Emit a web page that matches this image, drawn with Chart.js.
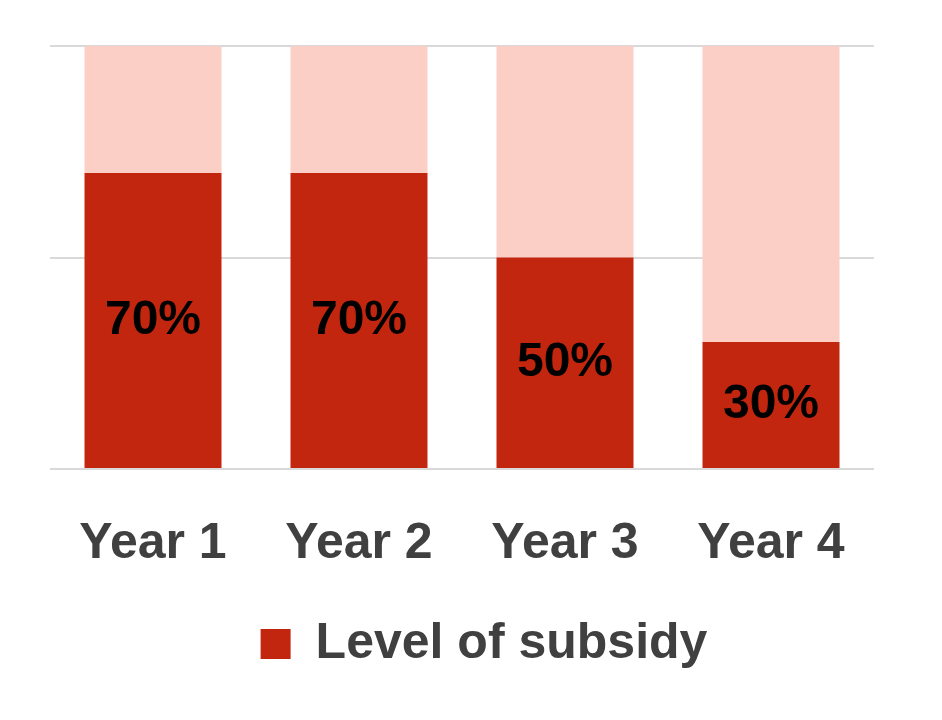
<!DOCTYPE html>
<html>
<head>
<meta charset="utf-8">
<script src="https://cdn.jsdelivr.net/npm/chart.js@4.4.1/dist/chart.umd.min.js"></script>
<style>
  body { margin: 0; background: #ffffff; }
  #wrap { width: 942px; height: 720px; }
</style>
</head>
<body>
<div id="wrap"><canvas id="bar-chart"></canvas></div>
<script>
// data
const categories = ["Year 1", "Year 2", "Year 3", "Year 4"];
const subsidy = [70, 70, 50, 30];
const remainder = subsidy.map((v) => 100 - v);
const yTicks = [0, 50, 100];

const textColor = "#404040";
const fontFamily = "'Liberation Sans', Arial, sans-serif";

// labels in the middle of the red bars
const barLabels = {
    id: "barLabels",
    afterDatasetsDraw(chart) {
        const ctx = chart.ctx;
        const meta = chart.getDatasetMeta(0);
        ctx.save();
        ctx.font = "bold 48px " + fontFamily;
        ctx.fillStyle = "#000000";
        ctx.textAlign = "center";
        ctx.textBaseline = "middle";
        meta.data.forEach((bar, i) => {
            ctx.fillText(subsidy[i] + "%", bar.x, (bar.y + bar.base) / 2);
        });
        ctx.restore();
    },
};

// legend sits a little right of the plot centre
const legendShift = {
    id: "legendShift",
    afterLayout(chart) {
        chart.legend.left += 22;
        chart.legend.right += 22;
    },
};

new Chart(document.getElementById("bar-chart"), {
    type: "bar",
    data: {
        labels: categories,
        datasets: [
            {
                label: "Level of subsidy",
                data: subsidy,
                backgroundColor: "#C3260E",
                categoryPercentage: 1,
                barPercentage: 0.665,
            },
            {
                label: "Remainder",
                data: remainder,
                backgroundColor: "#FBCEC6",
                categoryPercentage: 1,
                barPercentage: 0.665,
            },
        ],
    },
    options: {
        responsive: true,
        maintainAspectRatio: false,
        animation: false,
        layout: { padding: { left: 50, right: 68, top: 46, bottom: 41 } },
        scales: {
            x: {
                stacked: true,
                grid: { display: false, drawTicks: false },
                border: { display: false },
                ticks: {
                    color: textColor,
                    padding: 45,
                    font: { family: fontFamily, size: 50, weight: "bold" },
                },
            },
            y: {
                stacked: true,
                min: 0,
                max: 100,
                afterBuildTicks: (axis) => {
                    axis.ticks = yTicks.map((v) => ({ value: v }));
                },
                grid: { color: "#D9D9D9", lineWidth: 2, drawTicks: false },
                border: { display: false },
                ticks: { display: false },
                afterFit: (axis) => {
                    axis.width = 0;
                },
            },
        },
        plugins: {
            tooltip: { enabled: false },
            legend: {
                position: "bottom",
                labels: {
                    color: textColor,
                    boxWidth: 30,
                    boxHeight: 30,
                    padding: 0,
                    font: { family: fontFamily, size: 50, weight: "bold" },
                    filter: (item) => item.datasetIndex === 0,
                },
            },
        },
    },
    plugins: [barLabels, legendShift],
});
</script>
</body>
</html>
